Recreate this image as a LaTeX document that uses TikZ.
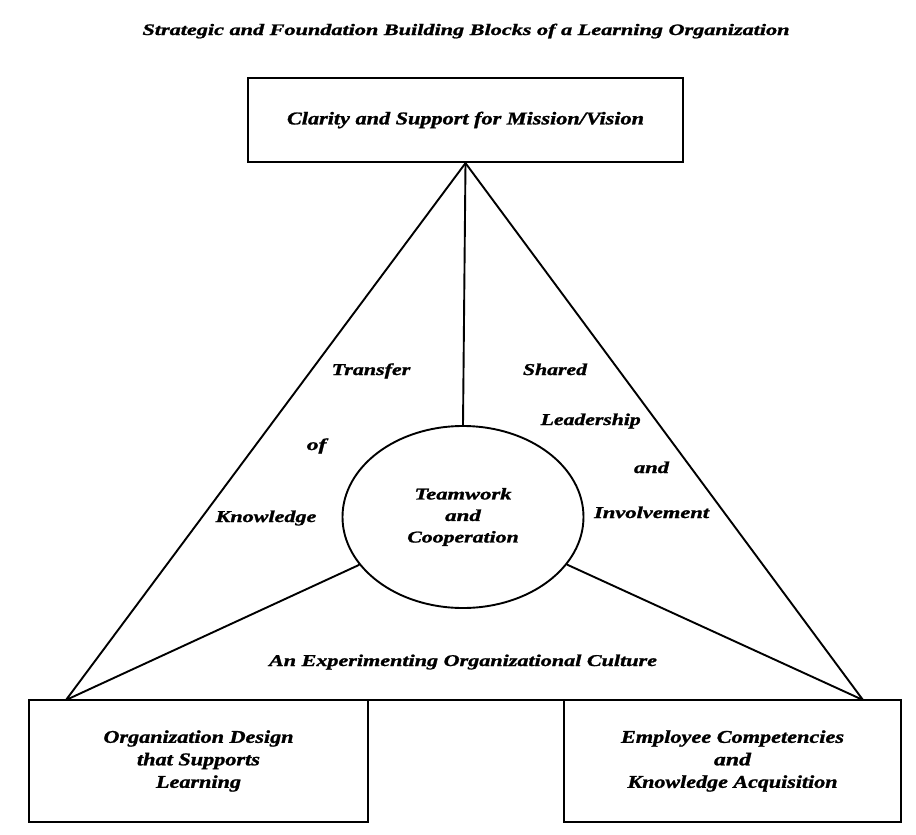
\documentclass[tikz,border=0pt]{standalone}
\usepackage{fontspec}
\setmainfont{Liberation Serif}[BoldItalicFeatures={FakeBold=1.2}]
\usepackage{graphicx}
\usetikzlibrary{shapes.geometric}
\newcommand\fw[2]{\resizebox{#1pt}{\height}{#2}}
\begin{document}
\begin{tikzpicture}[x=1pt,y=-1pt,
  box/.style={draw, line width=2.2pt, inner sep=0pt, align=center, font=\fontsize{18}{22.5}\selectfont\bfseries\itshape},
  lbl/.style={inner sep=0pt, anchor=base, font=\fontsize{16.5}{20}\selectfont\bfseries\itshape},
  ln/.style={line width=1.9pt}]
\useasboundingbox (0,0) rectangle (916,835);
\fill[white] (0,0) rectangle (916,835);
\node[lbl, font=\fontsize{16}{20}\selectfont\bfseries\itshape] (title) at (466,35) {\fw{647}{Strategic and Foundation Building Blocks of a Learning Organization}};
\node[box, minimum width=435pt, minimum height=84pt] (mission) at (465.5,120) {\fw{357}{Clarity and Support for Mission/Vision}};
\node[draw, ellipse, line width=1.9pt, minimum width=241pt, minimum height=182pt, inner sep=0pt, align=center, font=\fontsize{16.5}{21.5}\selectfont\bfseries\itshape] (team) at (463,517) {\fw{97}{Teamwork}\\ \fw{35.7}{and}\\ \fw{111.4}{Cooperation}};
\node[box, minimum width=339pt, minimum height=122pt] (design) at (198.5,761) {\fw{190}{Organization Design}\\ \fw{123}{that Supports}\\ \fw{85}{Learning}};
\node[box, minimum width=337pt, minimum height=122pt] (comp) at (732.5,761) {\fw{223}{Employee Competencies}\\ \fw{37}{and}\\ \fw{210}{Knowledge Acquisition}};
\coordinate (lc) at (66,700);
\coordinate (rc) at (863,700);
\draw[ln] (mission.south) -- (lc) -- (rc) -- cycle;
\draw[ln] (mission.south) -- (team.north);
\draw[ln] (team) -- (lc);
\draw[ln] (team) -- (rc);
\node[lbl] (transfer) at (371,375) {\fw{78.6}{Transfer}};
\node[lbl] (of) at (316.6,450) {\fw{19.6}{of}};
\node[lbl] (knowledge) at (266,522) {\fw{100.7}{Knowledge}};
\node[lbl] (shared) at (555,375) {\fw{64}{Shared}};
\node[lbl] (leadership) at (590.7,425) {\fw{100}{Leadership}};
\node[lbl] (and) at (651.5,473) {\fw{35}{and}};
\node[lbl] (involvement) at (651.6,518) {\fw{115}{Involvement}};
\node[lbl, font=\fontsize{16.5}{20}\selectfont\bfseries\itshape] (culture) at (463,666) {\fw{388}{An Experimenting Organizational Culture}};
\end{tikzpicture}
\end{document}
